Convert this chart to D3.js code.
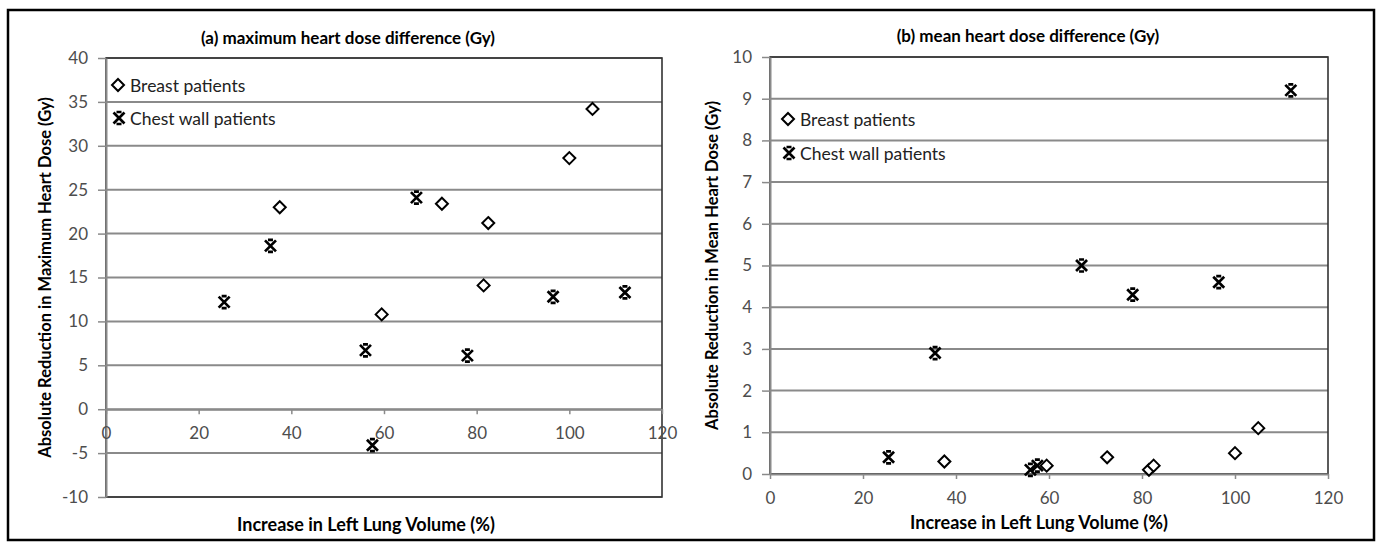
<!DOCTYPE html>
<html>
<head>
<meta charset="utf-8">
<script src="https://cdn.jsdelivr.net/npm/d3@7"></script>
<style>
    body { margin: 0; background: #fff; }
    svg { display: block; font-family: Lato, "Open Sans", sans-serif; }
</style>
</head>
<body>
<svg id="chart" width="1382" height="551"></svg>
<script>
// lung volume increase (%) per patient
const breastLung = [37.5, 59.5, 72.5, 81.5, 82.5, 100, 105];
const breastMaxDose = [23.0, 10.8, 23.4, 14.1, 21.2, 28.6, 34.2];
const breastMeanDose = [0.3, 0.2, 0.4, 0.1, 0.2, 0.5, 1.1];

const chestLung = [25.5, 35.5, 56, 57.5, 67, 78, 96.5, 112];
const chestMaxDose = [12.2, 18.6, 6.7, -4.1, 24.1, 6.1, 12.8, 13.3];
const chestMeanDose = [0.4, 2.9, 0.1, 0.2, 5.0, 4.3, 4.6, 9.2];

const xTicks = [0, 20, 40, 60, 80, 100, 120];
const maxDoseTicks = [-10, -5, 0, 5, 10, 15, 20, 25, 30, 35, 40];
const meanDoseTicks = [0, 1, 2, 3, 4, 5, 6, 7, 8, 9, 10];

const legendLabels = ['Breast patients', 'Chest wall patients'];

const svg = d3.select('#chart');

// outer frame
svg.append('rect')
    .attr('x', 8).attr('y', 10)
    .attr('width', 1366).attr('height', 530)
    .attr('fill', 'none')
    .attr('stroke', '#000')
    .attr('stroke-width', 2.5);

const diamond = (g, x, y) => {
    g.append('path')
        .attr('d', `M${x},${y - 6}L${x + 6},${y}L${x},${y + 6}L${x - 6},${y}Z`)
        .attr('fill', '#fff')
        .attr('stroke', '#000')
        .attr('stroke-width', 2);
}

const star = (g, x, y) => {
    g.append('path')
        .attr('d', `M${x - 5.5},${y - 5.5}L${x + 5.5},${y + 5.5}M${x - 5.5},${y + 5.5}L${x + 5.5},${y - 5.5}M${x - 2.5},${y - 6}L${x + 2.5},${y - 6}M${x - 2.5},${y + 6}L${x + 2.5},${y + 6}`)
        .attr('fill', 'none')
        .attr('stroke', '#000')
        .attr('stroke-width', 2.7);
}

const drawPanel = cfg => {
    const g = svg.append('g');

    const x = d3.scaleLinear().domain([0, 120]).range([cfg.left, cfg.right]);
    const y = d3.scaleLinear().domain(d3.extent(cfg.yTicks)).range([cfg.bottom, cfg.top]);

    // gridlines
    g.append('g')
        .selectAll('line')
        .data(cfg.yTicks)
        .enter()
        .append('line')
        .attr('x1', cfg.left).attr('x2', cfg.right)
        .attr('y1', d => y(d)).attr('y2', d => y(d))
        .attr('stroke', '#8a8a8a')
        .attr('stroke-width', 2);

    // plot area border
    g.append('rect')
        .attr('x', cfg.left).attr('y', cfg.top)
        .attr('width', cfg.right - cfg.left)
        .attr('height', cfg.bottom - cfg.top)
        .attr('fill', 'none')
        .attr('stroke', '#333')
        .attr('stroke-width', 1.6);

    const yAxis = g.append('g')
        .attr('transform', `translate(${cfg.left},0)`)
        .call(d3.axisLeft(y).tickValues(cfg.yTicks).tickFormat(d => String(d))
            .tickSize(8).tickPadding(10).tickSizeOuter(0));

    const xAxis = g.append('g')
        .attr('transform', `translate(0,${y(0)})`)
        .call(d3.axisBottom(x).tickValues(xTicks).tickFormat(d => String(d))
            .tickSize(5).tickPadding(13).tickSizeOuter(0));

    [yAxis, xAxis].forEach(a => {
        a.select('.domain').attr('stroke', '#8a8a8a').attr('stroke-width', 2);
        a.selectAll('.tick line').attr('stroke', '#8a8a8a').attr('stroke-width', 1.5);
        a.selectAll('.tick text')
            .attr('fill', '#4d4d4d')
            .style('font-size', '17px')
            .style('font-family', 'Lato, sans-serif');
    });

    // points
    const marks = g.append('g');
    cfg.breastY.forEach((v, i) => diamond(marks, x(breastLung[i]), y(v)));
    cfg.chestY.forEach((v, i) => star(marks, x(chestLung[i]), y(v)));

    // titles
    g.append('text')
        .attr('x', cfg.titleX).attr('y', cfg.titleY)
        .attr('text-anchor', 'middle')
        .attr('dominant-baseline', 'central')
        .style('font-size', '17px').style('font-weight', 'bold')
        .text(cfg.title);

    g.append('text')
        .attr('x', cfg.xTitleX).attr('y', cfg.xTitleY)
        .attr('text-anchor', 'middle')
        .attr('dominant-baseline', 'central')
        .style('font-size', '18px').style('font-weight', 'bold')
        .text('Increase in Left Lung Volume (%)');

    g.append('text')
        .attr('transform', `translate(${cfg.yTitleX},${(cfg.top + cfg.bottom) / 2}) rotate(-90)`)
        .attr('text-anchor', 'middle')
        .attr('dominant-baseline', 'central')
        .style('font-size', '16.5px').style('font-weight', 'bold')
        .text(cfg.yTitle);

    // legend
    const lg = g.append('g');
    diamond(lg, cfg.legendX, cfg.legendY[0]);
    star(lg, cfg.legendX + 1, cfg.legendY[1]);
    legendLabels.forEach((t, i) => {
        lg.append('text')
            .attr('x', cfg.legendX + 12).attr('y', cfg.legendY[i])
            .attr('dominant-baseline', 'central')
            .style('font-size', '17.5px')
            .attr('fill', '#222')
            .text(t);
    });
}

drawPanel({
    left: 106, right: 662, top: 58, bottom: 497,
    yTicks: maxDoseTicks,
    breastY: breastMaxDose, chestY: chestMaxDose,
    title: '(a) maximum heart dose difference (Gy)', titleX: 348, titleY: 37,
    xTitleX: 366, xTitleY: 524,
    yTitle: 'Absolute Reduction in Maximum Heart Dose (Gy)', yTitleX: 45,
    legendX: 118, legendY: [85, 118]
});

drawPanel({
    left: 770, right: 1328, top: 57, bottom: 474,
    yTicks: meanDoseTicks,
    breastY: breastMeanDose, chestY: chestMeanDose,
    title: '(b) mean heart dose difference (Gy)', titleX: 1028, titleY: 35,
    xTitleX: 1039, xTitleY: 522,
    yTitle: 'Absolute Reduction in Mean Heart Dose (Gy)', yTitleX: 712,
    legendX: 788, legendY: [119, 153]
});
</script>
</body>
</html>
